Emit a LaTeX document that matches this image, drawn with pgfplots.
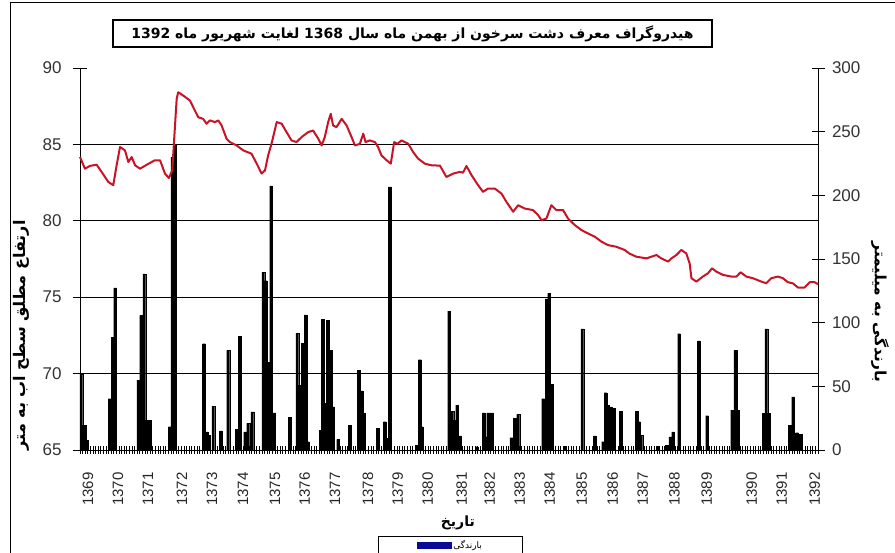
\documentclass[border=0pt]{standalone}
\usepackage{pgfplots}
\pgfplotsset{compat=1.18}
\usepackage{fontspec}
\setmainfont{Liberation Sans}
\newfontfamily\fa[Script=Arabic]{DejaVu Sans}
\TeXXeTstate=1
\definecolor{lvl}{RGB}{200,18,38}
\definecolor{legblue}{RGB}{10,10,150}
\begin{document}
\begin{tikzpicture}[x=1pt,y=1pt]
\useasboundingbox (0,0) rectangle (895,553);
\draw[line width=1pt] (10,-2) -- (10,550) -- (897,550);
\node[draw, line width=1.1pt, minimum width=599pt, minimum height=27pt, inner sep=0pt,
      font=\fa\bfseries\fontsize{14}{14}\selectfont] at (412.5,519.5)
  {\beginR هیدروگراف معرف دشت سرخون از بهمن ماه سال \beginL 1368\endL{}  لغایت شهریور ماه \beginL 1392\endL\endR};

% rainfall (right axis)
\begin{axis}[at={(80pt,103pt)}, anchor=south west, scale only axis,
  width=738pt, height=382pt, xmin=0, xmax=284, ymin=0, ymax=300,
  axis x line=none, axis y line*=right,
  ytick={0,50,...,300}, tick align=center, major tick length=13pt,
  axis line style={line width=0.9pt}, tick style={line width=0.9pt, black},
  /pgf/number format/assume math mode=true,
  yticklabel style={font=\fontsize{17}{17}\selectfont, text=black!80, xshift=4pt},
  ylabel={\fa\bfseries\beginR بارندگی به میلیمتر\endR},
  every axis y label/.style={at={(axis description cs:1.084,0.361)}, rotate=-90, anchor=center,
    font=\fontsize{15.5}{15.5}\selectfont},
  ybar, bar width=1.1, clip=false]
\addplot[fill=black, draw=black, line width=0.1pt] coordinates {
(0.5,60) (1.7,19.6) (2.6,7.8)
(11.5,40.4) (12.6,88.7) (13.5,127.3)
(22.4,54.8) (23.5,105.7) (24.7,138.3) (25.7,23.5) (26.9,23.5)
(34.6,18.3) (35.5,230) (36.5,240)
(47.7,83.5) (48.7,14.3) (49.6,11.7) (51.3,34.4) (54.2,15.1) (57.0,78.3) (60.3,16.2) (61.5,89.2) (63.5,14.3) (64.7,20.9) (66.3,30.0)
(70.5,139.6) (71.5,133) (72.4,69.1) (73.5,207.4) (74.7,29.2)
(80.8,25.6) (83.6,91.8) (84.6,50.9) (85.7,84) (86.8,106.2) (87.6,6.5)
(92.7,15.7) (93.3,102.5) (94.2,36.5) (95.3,101.7) (96.4,78.3) (97.4,33.9) (99.3,8.3)
(103.8,19.6) (107.3,62.6) (108.3,46.4) (109.3,28.7)
(114.5,17) (117.3,22.2) (118.2,9.1) (119.2,206.6)
(129.5,3.9) (130.8,71) (131.4,18.3)
(142.0,109) (143.2,30.5) (144.2,23.5) (145.1,35.2) (146.2,11)
(152.6,2.6) (155.4,29.2) (156.0,10.4) (157.0,29.2) (158.3,29.2)
(166.0,9.7) (167.3,24.8) (168.6,27.9)
(178.2,40.4) (179.5,118.7) (180.5,123.1) (181.4,51.7)
(186.5,3.1) (193.3,95.2)
(198.1,11) (201.3,6.5) (202.2,45.1) (203.2,35.2) (204.1,33.9) (205.5,32.6) (208.1,30.5)
(214.3,30.5) (215.1,22.2) (216.0,11.7)
(222.4,3) (225.7,3.9) (227.2,10.4) (228.2,14.3) (230.5,91.3)
(238.1,85.6) (241.3,26.9)
(250.9,31.3) (252.2,78.3) (253.2,31.3)
(263.1,28.7) (264.1,95.2) (265.1,28.7)
(273.1,19.6) (274.4,41.7) (275.9,13.6) (277.2,12.5)
};
\end{axis}

% monthly comb on the x axis
\begin{axis}[at={(80pt,103pt)}, anchor=south west, scale only axis,
  width=738pt, height=382pt, xmin=0, xmax=284, ymin=0, ymax=1,
  axis x line*=bottom, axis y line=none,
  xtick={0,1,...,284}, xticklabels={}, tick align=center, major tick length=8pt,
  axis line style={line width=0.9pt}, tick style={line width=0.7pt, black}]
\end{axis}

% water level (left axis)
\begin{axis}[at={(80pt,103pt)}, anchor=south west, scale only axis,
  width=738pt, height=382pt, xmin=0, xmax=284, ymin=65, ymax=90,
  axis x line*=bottom, axis y line*=left,
  ytick={65,70,...,90}, extra y ticks={70,75,80,85}, extra y tick labels={},
  extra y tick style={grid=major}, grid style={black, line width=1pt},
  tick align=center, major tick length=14pt,
  axis line style={line width=0.9pt}, tick style={line width=0.9pt, black},
  xtick={3.1,14.6,26.2,39.2,50.8,62.7,75,86.5,98.1,110.8,122.3,133.8,146.9,157.7,169.2,180.8,193.1,205,216.5,228.8,241.2,258.5,270,282.7},
  xticklabels={1369,1370,1371,1372,1373,1374,1375,1376,1377,1378,1379,1380,1381,1382,1383,1384,1385,1386,1387,1388,1389,1390,1391,1392},
  xtick style={draw=none},
  /pgf/number format/assume math mode=true,
  xticklabel style={rotate=90, anchor=east, xshift=-12pt, font=\fontsize{15}{15}\selectfont, text=black!85},
  yticklabel style={font=\fontsize{17}{17}\selectfont, text=black!80, xshift=-8pt},
  ylabel={\fa\bfseries\beginR ارتفاع مطلق سطح اب به متر\endR},
  every axis y label/.style={at={(axis description cs:-0.080,0.30)}, rotate=90, anchor=center,
    font=\fontsize{16}{16}\selectfont},
  xlabel={\fa\bfseries\beginR تاریخ\endR},
  every axis x label/.style={at={(axis description cs:0.512,-0.19)}, anchor=center,
    font=\fontsize{14}{14}\selectfont},
  legend style={at={(axis description cs:0.404,-0.226)}, anchor=north west, draw=black,
    line width=0.8pt, inner xsep=38pt, inner ysep=2pt, font=\fa\fontsize{9}{9}\selectfont},
  clip=false]
\addlegendimage{legend image code/.code={\fill[legblue] (0pt,-3pt) rectangle (34pt,3pt);}}
\addlegendentry{\beginR بارندگی\endR}
\addplot[lvl, line width=2pt, line join=round, forget plot] coordinates {
(0,84.17) (1.9,83.41) (3.8,83.59) (6.4,83.67) (8.3,83.20) (10.9,82.54) (12.8,82.33)
(14.1,83.63) (15.4,84.83) (17.3,84.61) (18.6,83.85) (19.9,84.17) (21.2,83.63) (23.1,83.41)
(25.7,83.67) (28.8,83.96) (30.8,83.96) (32.7,83.09) (34.2,82.80) (35.5,83.30) (37.2,87.98)
(37.8,88.41) (39.7,88.20) (42.3,87.87) (44.2,87.22) (45.5,86.78) (47.4,86.67) (48.7,86.35)
(50.0,86.57) (51.9,86.46) (53.2,86.57) (54.5,86.24) (56.4,85.37) (57.7,85.15) (60.3,84.93)
(62.8,84.61) (66.0,84.39) (68.0,83.74) (69.9,83.09) (71.2,83.30) (72.4,84.28) (73.7,85.04)
(75.7,86.46) (77.6,86.35) (79.5,85.80) (81.4,85.26) (83.3,85.15) (85.3,85.48) (87.8,85.80)
(89.7,85.91) (91.7,85.37) (93.0,84.93) (94.2,85.48) (95.5,86.46) (96.5,87.00) (97.4,86.24)
(98.7,86.13) (100.7,86.67) (102.6,86.24) (104.5,85.48) (105.8,84.93) (107.7,85.04) (109.0,85.70)
(109.9,85.15) (111.5,85.26) (113.5,85.15) (114.7,84.83) (116.0,84.28) (118.0,83.96) (119.6,83.74)
(120.9,85.15) (122.2,85.04) (123.7,85.26) (126.3,85.04) (128.2,84.50) (130.1,84.07) (132.7,83.74)
(135.3,83.63) (138.5,83.61) (141.0,82.87) (143.6,83.09) (146.2,83.20) (147.4,83.15) (148.7,83.59)
(150.7,82.98) (153.2,82.33) (155.1,81.89) (157.0,82.11) (159.6,82.11) (162.2,81.78) (164.1,81.24)
(166.7,80.59) (168.6,81.02) (171.2,80.80) (174.3,80.70) (176.3,80.37) (177.6,80.04) (179.5,80.15)
(181.4,81.02) (183.3,80.70) (185.9,80.70) (187.8,80.15) (190.4,79.72) (193.0,79.39) (195.5,79.17)
(198.1,78.96) (200.7,78.63) (203.2,78.41) (206.4,78.30) (209.6,78.09) (211.5,77.85) (214.1,77.65)
(218.0,77.54) (219.9,77.65) (221.8,77.76) (223.7,77.54) (226.3,77.33) (227.6,77.54) (229.5,77.76)
(231.4,78.09) (233.3,77.87) (234.6,77.22) (235.3,76.24) (237.2,76.02) (239.7,76.35) (241.7,76.57)
(243.2,76.89) (244.9,76.67) (247.4,76.46) (250.7,76.35) (252.6,76.35) (254.2,76.63) (256.4,76.35)
(259.0,76.24) (262.2,76.02) (264.1,75.91) (266.0,76.24) (268.6,76.35) (270.5,76.24) (272.4,75.98)
(274.3,75.91) (276.3,75.63) (278.8,75.63) (280.8,75.98) (282.7,75.98) (284.0,75.85)
};
\end{axis}
\end{tikzpicture}
\end{document}
